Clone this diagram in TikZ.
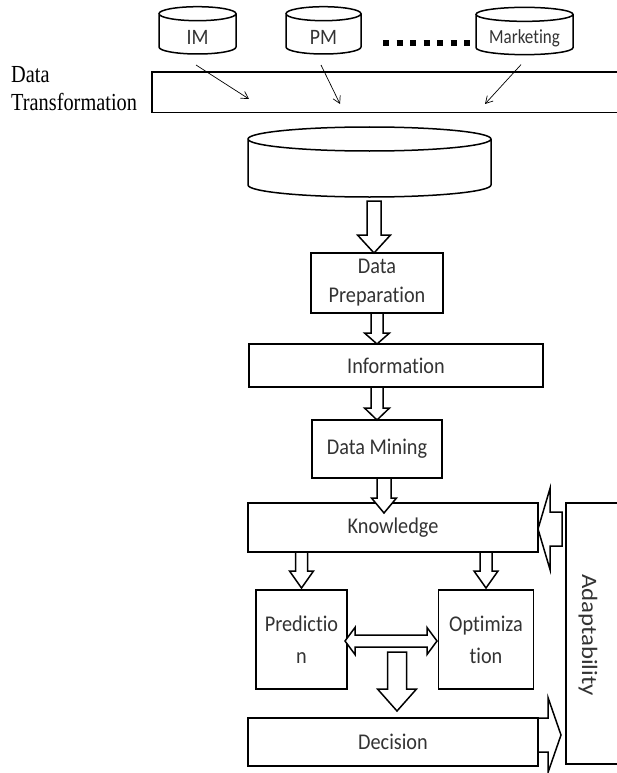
\documentclass[tikz,border=0pt]{standalone}
\usepackage{fontspec}
\setmainfont{Carlito}[Ligatures=NoCommon]
\newfontfamily\serifT{Liberation Serif}[Ligatures=NoCommon]
\usetikzlibrary{calc,arrows.meta}
\tikzset{
  ln/.style={line width=1.5pt, line join=miter},
  cylnode/.style={inner sep=0pt, outer sep=0pt, font=\fontsize{22}{26}\selectfont, text=black!80},
  box/.style={draw, line width=1.7pt, inner sep=0pt, outer sep=0pt, font=\fontsize{22.5}{29}\selectfont, text=black!80, align=center},
  blk/.style={draw, fill=white, line width=1.5pt, line join=miter},
  thinarrow/.style={line width=0.7pt, -{Straight Barb[length=7pt,width=8pt]}},
}
\newcommand\nx[1]{\scalebox{0.9}[1]{#1}}
\newcommand\cylshape[2]{%
  \draw[ln] let \p1=(#1.north west), \p2=(#1.south east), \p3=(#1.north) in
    (\x1,\y1+#2) -- (\x1,\y2+#2) arc[start angle=180,end angle=360,x radius=\x3-\x1,y radius=#2] -- (\x2,\y1+#2)
    (\x3,\y1+#2) ellipse[x radius=\x3-\x1, y radius=#2];}
\newcommand\blkdown[5]{%
  \draw[blk] let \p1=#1, \p2=#2 in
   (\x1-#3,\y1) -- (\x1-#3,\y2+#5) -- (\x1-#4,\y2+#5) -- (\x1,\y2) -- (\x1+#4,\y2+#5) -- (\x1+#3,\y2+#5) -- (\x1+#3,\y1) -- cycle;}
\newcommand\blkleft[5]{%
  \draw[blk] let \p1=#1, \p2=#2 in
   (\x1,\y1+#3) -- (\x2+#5,\y1+#3) -- (\x2+#5,\y1+#4) -- (\x2,\y1) -- (\x2+#5,\y1-#4) -- (\x2+#5,\y1-#3) -- (\x1,\y1-#3) -- cycle;}
\newcommand\blkright[5]{%
  \draw[blk] let \p1=#1, \p2=#2 in
   (\x1,\y1+#3) -- (\x2-#5,\y1+#3) -- (\x2-#5,\y1+#4) -- (\x2,\y1) -- (\x2-#5,\y1-#4) -- (\x2-#5,\y1-#3) -- (\x1,\y1-#3) -- cycle;}
\newcommand\blkdouble[5]{%
  \draw[blk] let \p1=#1, \p2=#2 in
   (\x1,\y1) -- (\x1+#5,\y1+#4) -- (\x1+#5,\y1+#3) -- (\x2-#5,\y1+#3) -- (\x2-#5,\y1+#4) -- (\x2,\y1)
   -- (\x2-#5,\y1-#4) -- (\x2-#5,\y1-#3) -- (\x1+#5,\y1-#3) -- (\x1+#5,\y1-#4) -- cycle;}
\begin{document}
\begin{tikzpicture}[x=1pt,y=-1pt]
\useasboundingbox[fill=white] (0,0) rectangle (616,773);

% source databases
\node[cylnode, minimum width=77pt, minimum height=33.3pt] (im) at (197.5,37.35) {\nx{IM}};
\node[cylnode, minimum width=75pt, minimum height=33.3pt] (pm) at (323.5,37.35) {\nx{PM}};
\node[cylnode, minimum width=97pt, minimum height=33.3pt, font=\fontsize{20}{24}\selectfont] (mk) at (524.5,38) {\scalebox{0.85}[1]{Marketing}};
\cylshape{im}{7pt}
\cylshape{pm}{7pt}
\cylshape{mk}{7pt}
\draw[line width=6pt, dash pattern=on 6pt off 7.5pt] (383,43) -- (470,43);

% data transformation
\node[anchor=west, align=left, inner sep=0pt, font=\serifT\fontsize{24.5}{28}\selectfont] (dtl) at (11,89)
  {\scalebox{0.83}[1]{Data}\\\scalebox{0.83}[1]{Transformation}};
\node[box, minimum width=473pt, minimum height=40.5pt] (dt) at (388.5,92.25) {};
\coordinate (ime) at (249,99);
\coordinate (pme) at (340,104);
\coordinate (mke) at (485,104);
\draw[thinarrow] ($(im.south)+(-1.5,11)$) -- (ime);
\draw[thinarrow] ($(pm.south)+(-2.5,11)$) -- (pme);
\draw[thinarrow] ($(mk.south)+(-3.5,10)$) -- (mke);

% warehouse
\node[inner sep=0pt, outer sep=0pt, minimum width=243pt, minimum height=46pt] (db) at (369.5,174) {};
\cylshape{db}{12pt}

% boxes
\node[box, minimum width=132pt, minimum height=60pt] (dp) at (377,283) {\nx{Data}\\\nx{Preparation}};
\node[box, minimum width=294pt, minimum height=43pt] (info) at (396,365.5) {\nx{Information}};
\node[box, minimum width=130pt, minimum height=58pt] (dm) at (377,449) {\nx{Data Mining}};
\node[box, minimum width=290pt, minimum height=49pt] (kn) at (393,527.5) {\nx{Knowledge}};
\node[box, minimum width=91pt, minimum height=99pt, font=\fontsize{22.5}{32}\selectfont] (pred) at (301.5,639.5) {\nx{Predictio}\\\nx{n}};
\node[box, minimum width=95pt, minimum height=99pt, font=\fontsize{22.5}{32}\selectfont] (opt) at (486,639.5) {\nx{Optimiza}\\\nx{tion}};
\node[box, minimum width=290pt, minimum height=48pt] (dec) at (393,742) {\nx{Decision}};
\node[box, minimum width=59pt, minimum height=261pt] (adapt) at (595.5,633.5) {};
\node[rotate=-90, inner sep=0pt, font=\fontsize{22}{26}\selectfont, text=black!80] (adaptlbl) at (588,635) {\scalebox{1.13}[1]{Adaptability}};

% block arrows
\blkdown{($(db.south)+(4.5,4)$)}{(dp.north)}{7pt}{16.5pt}{18pt}
\blkdown{(dp.south)}{(dp.south |- info.north)}{6pt}{12.5pt}{11pt}
\blkdown{(dm.north |- info.south)}{(dm.north)}{6pt}{12.5pt}{12pt}
\blkdown{($(dm.south)+(7,0)$)}{($(kn.north)+(0,10)$)}{7pt}{12.5pt}{15pt}
\blkdown{(pred.north |- kn.south)}{($(pred.north)+(0,-2)$)}{6pt}{12pt}{17pt}
\blkdown{(opt.north |- kn.south)}{($(opt.north)+(0,-2)$)}{6pt}{12pt}{17pt}
\blkdouble{($(pred.east)+(-2,1.5)$)}{($(opt.west)+(-1.5,1.5)$)}{6pt}{13.5pt}{10pt}
\coordinate (dsrc) at (397,652);
\blkdown{(dsrc)}{($(dec.north)+(0,-7)$)}{9.5pt}{19.5pt}{22pt}
\blkleft{($(kn.east -| adapt.west)+(-4,1.5)$)}{(kn.east)}{17pt}{40.5pt}{12pt}
\blkright{($(dec.east)+(0,-7)$)}{($(dec.east -| adapt.west)+(-5,0)$)}{17pt}{37.5pt}{13pt}
\end{tikzpicture}
\end{document}
